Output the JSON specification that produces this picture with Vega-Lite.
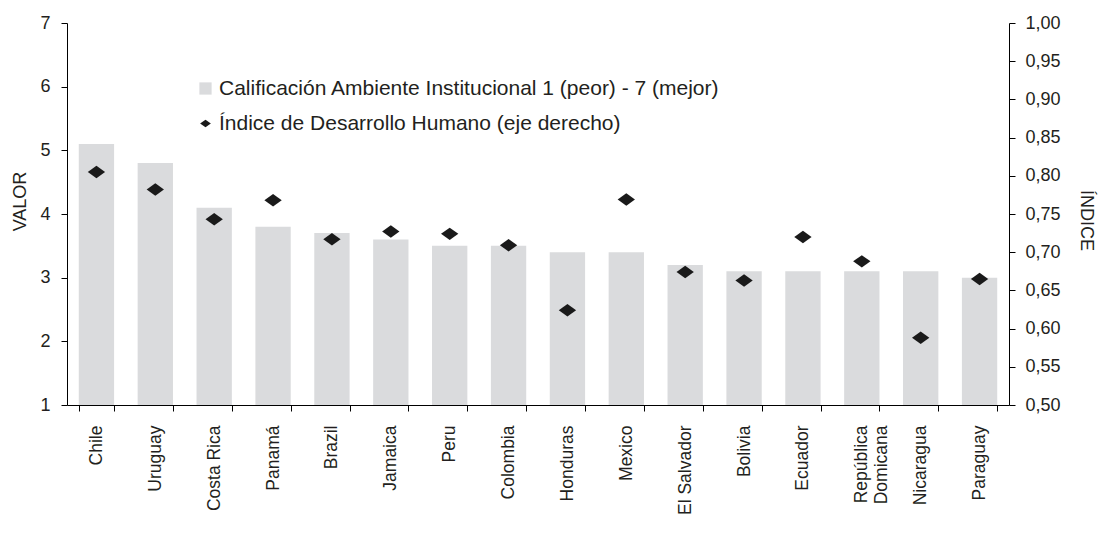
{
  "$schema": "https://vega.github.io/schema/vega-lite/v6.json",
  "width": 942,
  "height": 382,
  "autosize": {"type": "none"},
  "padding": {"left": 67, "top": 23, "right": 89, "bottom": 129},
  "background": "white",
  "config": {
    "font": "Liberation Sans",
    "view": {"stroke": null},
    "axis": {
      "grid": false,
      "domainColor": "#000000",
      "tickColor": "#000000",
      "labelColor": "#231f20",
      "titleColor": "#231f20",
      "labelFont": "Liberation Sans",
      "titleFont": "Liberation Sans",
      "labelFontSize": 18,
      "titleFontSize": 18,
      "titleFontWeight": "normal",
      "tickSize": 6,
      "domainWidth": 1,
      "tickWidth": 1
    },
    "legend": {
      "labelFont": "Liberation Sans",
      "labelFontSize": 21,
      "labelColor": "#231f20",
      "labelLimit": 0
    }
  },
  "data": {
    "values": [
      {"pais": "Chile", "valor": 5.1, "idh": 0.805},
      {"pais": "Uruguay", "valor": 4.8, "idh": 0.782},
      {"pais": "Costa Rica", "valor": 4.1, "idh": 0.743},
      {"pais": "Panamá", "valor": 3.8, "idh": 0.768},
      {"pais": "Brazil", "valor": 3.7, "idh": 0.717},
      {"pais": "Jamaica", "valor": 3.6, "idh": 0.727},
      {"pais": "Peru", "valor": 3.5, "idh": 0.724},
      {"pais": "Colombia", "valor": 3.5, "idh": 0.709},
      {"pais": "Honduras", "valor": 3.4, "idh": 0.624},
      {"pais": "Mexico", "valor": 3.4, "idh": 0.769},
      {"pais": "El Salvador", "valor": 3.2, "idh": 0.674},
      {"pais": "Bolivia", "valor": 3.1, "idh": 0.663},
      {"pais": "Ecuador", "valor": 3.1, "idh": 0.720},
      {"pais": "República Domicana", "valor": 3.1, "idh": 0.688},
      {"pais": "Nicaragua", "valor": 3.1, "idh": 0.588},
      {"pais": "Paraguay", "valor": 3.0, "idh": 0.665}
    ]
  },
  "encoding": {
    "x": {
      "field": "pais",
      "type": "nominal",
      "sort": null,
      "scale": {"paddingInner": 0.4, "paddingOuter": 0.2},
      "axis": {
        "title": null,
        "labelAngle": -90,
        "labelAlign": "right",
        "labelBaseline": "middle",
        "labelFontSize": 17.5,
        "labelPadding": 14,
        "labelLineHeight": 20,
        "tickBand": "extent",
        "labelExpr": "datum.label == 'República Domicana' ? ['República', 'Domicana'] : datum.label"
      }
    }
  },
  "layer": [
    {
      "mark": {"type": "bar", "color": "#dadbdd"},
      "encoding": {
        "y": {
          "field": "valor",
          "type": "quantitative",
          "scale": {"domain": [1, 7], "nice": false, "zero": false},
          "axis": {
            "title": "VALOR",
            "values": [1, 2, 3, 4, 5, 6, 7],
            "labelPadding": 11,
            "titleAngle": -90,
            "titleX": -47,
            "titleY": 178,
            "titleAlign": "center",
            "titleBaseline": "middle"
          }
        },
        "y2": {"datum": 1},
        "color": {
          "datum": "Calificación Ambiente Institucional 1 (peor) - 7 (mejor)",
          "type": "nominal",
          "scale": {
            "domain": ["Calificación Ambiente Institucional 1 (peor) - 7 (mejor)", "Índice de Desarrollo Humano (eje derecho)"],
            "range": ["#dadbdd", "#1a1a1a"]
          },
          "legend": {
            "title": null,
            "orient": "none",
            "legendX": 128,
            "legendY": 55,
            "rowPadding": 13,
            "labelOffset": 3,
            "symbolSize": 150,
            "labelLimit": 0,
            "encode": {
              "symbols": {
                "update": {
                  "shape": {"signal": "datum.value == 'Calificación Ambiente Institucional 1 (peor) - 7 (mejor)' ? 'square' : 'M-1,0L0,-0.72L1,0L0,0.72Z'"},
                  "size": {"signal": "datum.value == 'Calificación Ambiente Institucional 1 (peor) - 7 (mejor)' ? 150 : 115"},
                  "fill": {"signal": "datum.value == 'Calificación Ambiente Institucional 1 (peor) - 7 (mejor)' ? '#dadbdd' : '#1a1a1a'"},
                  "stroke": {"value": null},
                  "strokeWidth": {"value": 0}
                }
              }
            }
          }
        }
      }
    },
    {
      "mark": {"type": "point", "filled": true, "shape": "M-1,0L0,-0.72L1,0L0,0.72Z", "size": 300, "opacity": 1},
      "encoding": {
        "y": {
          "field": "idh",
          "type": "quantitative",
          "scale": {"domain": [0.5, 1.0], "nice": false, "zero": false},
          "axis": {
            "orient": "right",
            "title": "ÍNDICE",
            "values": [0.5, 0.55, 0.6, 0.65, 0.7, 0.75, 0.8, 0.85, 0.9, 0.95, 1.0],
            "labelExpr": "replace(format(datum.value, '.2f'), '.', ',')",
            "labelPadding": 10,
            "titleAngle": 90,
            "titleX": 76,
            "titleY": 197,
            "titleAlign": "center",
            "titleBaseline": "middle"
          }
        },
        "color": {
          "datum": "Índice de Desarrollo Humano (eje derecho)",
          "type": "nominal"
        }
      }
    }
  ],
  "resolve": {"scale": {"y": "independent"}}
}
